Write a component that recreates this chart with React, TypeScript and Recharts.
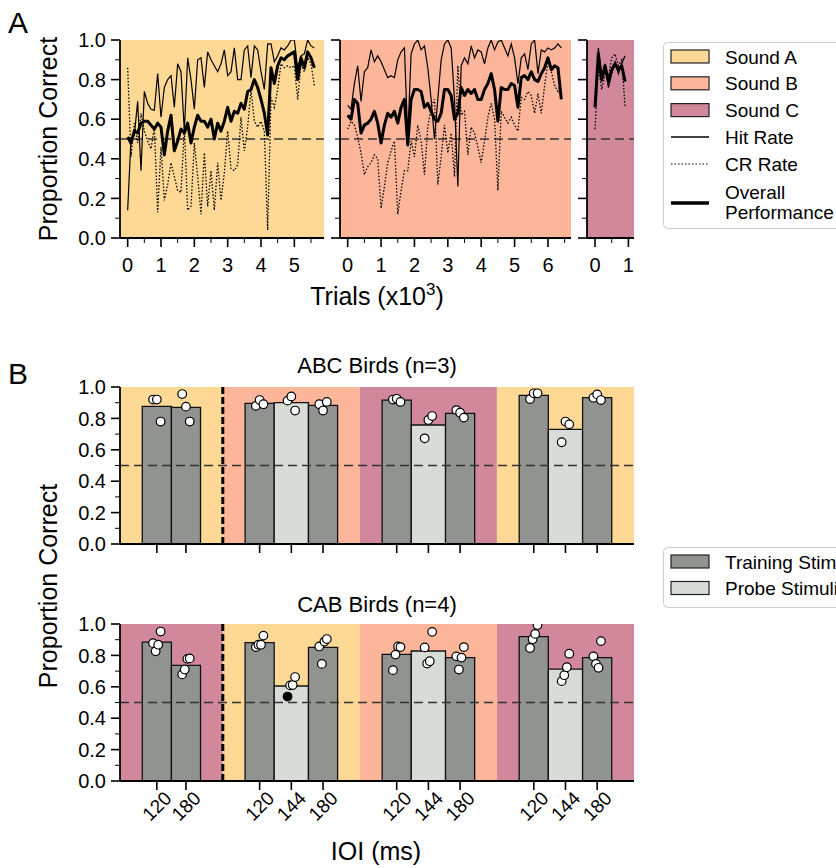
import React from 'react';
import { ComposedChart, Line, Scatter, XAxis, YAxis, ReferenceArea, ReferenceLine } from 'recharts';

const FONT = '"Liberation Sans", Arial, Helvetica, sans-serif';

const soundColors: Record<string, string> = { A: '#fdd995', B: '#fdb699', C: '#d1889b' };
const trainingColor = '#919391';
const probeColor = '#d7dcd7';

// ---- Panel A: proportion correct per 100-trial bin (x in thousands of trials) ----
const soundAHit = [
  0.14, 0.5, 0.52, 0.69, 0.34, 0.74, 0.68, 0.65, 0.645, 0.83,
  0.61, 0.76, 0.8, 0.82, 0.66, 0.88, 0.84, 0.54, 0.91, 0.8,
  0.65, 0.9, 0.91, 0.76, 0.94, 0.9, 0.87, 0.84, 0.88, 0.95,
  0.82, 0.84, 0.96, 0.8, 0.8, 0.95, 0.97, 0.81, 0.97, 0.95,
  0.84, 0.75, 0.98, 0.98, 0.89, 0.92, 0.96, 0.95, 0.97, 1.0,
  1.0, 0.86, 0.92, 0.93, 1.0, 0.97, 0.96,
];
const soundACr = [
  0.86, 0.41, 0.58, 0.48, 0.63, 0.54, 0.49, 0.45, 0.56, 0.13,
  0.46, 0.19, 0.27, 0.38, 0.31, 0.24, 0.23, 0.56, 0.14, 0.16,
  0.48, 0.31, 0.12, 0.43, 0.16, 0.34, 0.14, 0.38, 0.19, 0.33,
  0.54, 0.35, 0.34, 0.37, 0.61, 0.44, 0.56, 0.75, 0.59, 0.56,
  0.59, 0.54, 0.04, 0.71, 0.66, 0.75, 0.88, 0.86, 0.87, 0.86,
  0.87, 0.7, 0.88, 0.84, 0.91, 0.88, 0.77,
];
const soundAAll = [
  0.51, 0.48, 0.54, 0.53, 0.58, 0.59, 0.59, 0.57, 0.55, 0.58,
  0.56, 0.42, 0.54, 0.62, 0.44, 0.49, 0.55, 0.53, 0.58, 0.48,
  0.56, 0.62, 0.59, 0.59, 0.56, 0.6, 0.5, 0.58, 0.54, 0.59,
  0.66, 0.59, 0.64, 0.63, 0.68, 0.65, 0.74, 0.75, 0.8, 0.76,
  0.7, 0.63, 0.52, 0.86, 0.78, 0.87, 0.91, 0.9, 0.92, 0.93,
  0.94, 0.8, 0.91, 0.86, 0.94, 0.91, 0.86,
];

const soundBHit = [
  0.67, 0.65, 0.78, 0.87, 0.69, 0.84, 0.86, 0.95, 0.89, 0.92,
  0.89, 0.85, 0.81, 0.82, 0.81, 0.9, 0.94, 0.96, 0.51, 0.93,
  0.98, 1.0, 0.95, 0.97, 0.86, 0.7, 0.5, 0.7, 0.9, 0.98,
  1.0, 0.96, 0.7, 0.26, 0.87, 0.91, 0.88, 0.97, 0.91, 0.95,
  0.94, 0.88, 0.96, 1.0, 0.95, 0.99, 1.0, 0.96, 0.92, 0.98,
  0.91, 0.78, 0.91, 0.93, 0.85, 0.98, 1.0, 0.83, 0.95, 0.94,
  0.96, 0.95, 0.96, 0.98, 0.96,
];
const soundBCr = [
  0.55, 0.59, 0.57, 0.51, 0.43, 0.32, 0.36, 0.38, 0.42, 0.4,
  0.15, 0.26, 0.38, 0.44, 0.49, 0.12, 0.24, 0.34, 0.34, 0.49,
  0.41, 0.57, 0.49, 0.32, 0.56, 0.66, 0.7, 0.27, 0.41, 0.57,
  0.43, 0.53, 0.31, 0.87, 0.62, 0.64, 0.42, 0.56, 0.53, 0.46,
  0.38, 0.49, 0.61, 0.68, 0.6, 0.24, 0.64, 0.61, 0.58, 0.61,
  0.57, 0.54, 0.71, 0.7, 0.74, 0.72, 0.63, 0.73, 0.63, 0.77,
  0.89, 0.84, 0.77, 0.74, 0.78,
];
const soundBAll = [
  0.62, 0.6, 0.7, 0.68, 0.53, 0.57, 0.58, 0.6, 0.64, 0.58,
  0.48, 0.57, 0.63, 0.61, 0.64, 0.58, 0.66, 0.7, 0.47, 0.7,
  0.75, 0.75, 0.74, 0.66, 0.68, 0.64, 0.6, 0.59, 0.63, 0.75,
  0.75, 0.72, 0.6, 0.63, 0.76, 0.72, 0.75, 0.73, 0.75, 0.7,
  0.7, 0.75, 0.78, 0.83, 0.75, 0.59, 0.76, 0.75, 0.75, 0.78,
  0.77, 0.66, 0.81, 0.82, 0.8, 0.84, 0.8, 0.79, 0.83, 0.86,
  0.91, 0.85, 0.87, 0.86, 0.7,
];

const soundCHit = [0.67, 0.96, 0.79, 0.88, 0.76, 0.83, 0.89, 0.83, 0.88, 0.92];
const soundCCr = [0.55, 0.87, 0.75, 0.83, 0.81, 0.91, 0.93, 0.87, 0.9, 0.66];
const soundCAll = [0.66, 0.93, 0.8, 0.87, 0.79, 0.85, 0.88, 0.85, 0.87, 0.79];

const yTicks = [0, 0.1, 0.2, 0.3, 0.4, 0.5, 0.6, 0.7, 0.8, 0.9, 1.0];
const soundATicks = [0, 0.5, 1, 1.5, 2, 2.5, 3, 3.5, 4, 4.5, 5, 5.5];
const soundBTicks = [0, 0.5, 1, 1.5, 2, 2.5, 3, 3.5, 4, 4.5, 5, 5.5, 6, 6.5];
const soundCTicks = [0, 0.5, 1];

// ---- Panel B: generalisation across IOI ----
const ioiTwo = ['120', '180'];
const ioiThree = ['120', '144', '180'];
const abcSounds = ['A', 'B', 'C', 'A'];
const cabSounds = ['C', 'A', 'B', 'C'];

const abcMeans = [
  [0.877, 0.87],
  [0.896, 0.9, 0.883],
  [0.917, 0.758, 0.832],
  [0.947, 0.73, 0.932],
];
const abcBirds = [
  [[0.92, 0.92, 0.78], [0.955, 0.875, 0.78]],
  [[0.88, 0.917, 0.89], [0.913, 0.94, 0.85], [0.89, 0.85, 0.905]],
  [[0.92, 0.925, 0.905], [0.673, 0.79, 0.815], [0.853, 0.836, 0.805]],
  [[0.923, 0.96, 0.96], [0.648, 0.78, 0.762], [0.932, 0.953, 0.917]],
];
const cabMeans = [
  [0.885, 0.737],
  [0.882, 0.605, 0.851],
  [0.807, 0.828, 0.786],
  [0.92, 0.712, 0.786],
];
const cabBirds = [
  [[0.878, 0.826, 0.868, 0.952], [0.679, 0.71, 0.778, 0.781]],
  [[0.853, 0.868, 0.868, 0.926], [0.538, 0.609, 0.611, 0.662], [0.857, 0.746, 0.888, 0.904]],
  [[0.706, 0.805, 0.857, 0.853], [0.851, 0.748, 0.763, 0.95], [0.794, 0.71, 0.786, 0.853]],
  [[0.847, 0.903, 0.937, 0.994], [0.636, 0.674, 0.725, 0.811], [0.794, 0.746, 0.721, 0.891]],
];
const cabExcluded = ['1-1-0'];

const groupCenters = [1.5, 5, 9, 13];
const regionEdges = [0, 3, 7, 11, 15];
const jitter3 = [-0.11, 0, 0.11];
const jitter4 = [-0.11, -0.035, 0.04, 0.11];
const TRAIN_W = 0.85;
const PROBE_W = 1.0;

const AXIS_LINE = { stroke: '#000', strokeWidth: 1.8 };
const PAD = 12;
const TICK_FS = 20;

function place(x0: number, y0: number, x1: number, y1: number, yw: number, xh: number) {
  return {
    left: x0 - yw,
    top: y0 - PAD,
    width: x1 - x0 + yw + PAD,
    height: y1 - y0 + PAD + xh,
    margin: { top: PAD, right: PAD, bottom: 0, left: 0 },
  };
}

function ValueTick({ x, y, payload, showLabel }: any) {
  const v = payload.value;
  const major = Math.round(v * 10) % 2 === 0;
  return (
    <g>
      <line x1={x - (major ? 9 : 5)} x2={x} y1={y} y2={y} stroke="#000" strokeWidth={major ? 1.6 : 1} />
      {major && showLabel ? (
        <text x={x - 14} y={y} dy="0.36em" textAnchor="end" fontSize={TICK_FS} fontFamily={FONT} fill="#000">
          {v.toFixed(1)}
        </text>
      ) : null}
    </g>
  );
}

function TrialTick({ x, y, payload }: any) {
  const v = payload.value;
  const major = Math.abs(v - Math.round(v)) < 1e-6;
  return (
    <g>
      <line x1={x} x2={x} y1={y} y2={y + (major ? 9 : 5)} stroke="#000" strokeWidth={major ? 1.6 : 1} />
      {major ? (
        <text x={x} y={y + 34} textAnchor="middle" fontSize={TICK_FS} fontFamily={FONT} fill="#000">
          {v}
        </text>
      ) : null}
    </g>
  );
}

function IoiTick({ x, y, label }: any) {
  return (
    <g>
      <line x1={x} x2={x} y1={y} y2={y + 9} stroke="#000" strokeWidth={1.6} />
      {label ? (
        <text
          transform={`translate(${x},${y + 25}) rotate(-45)`}
          textAnchor="middle"
          dy="0.35em"
          fontSize={19}
          fontFamily={FONT}
          fill="#000"
        >
          {label}
        </text>
      ) : null}
    </g>
  );
}

function BirdDot({ cx, cy, payload }: any) {
  return <circle cx={cx} cy={cy} r={4.3} fill={payload.excluded ? '#000' : '#fff'} stroke="#000" strokeWidth={1.2} />;
}

function TrialPanel({ x0, x1, domain, ticks, sound, hit, cr, all, labels }: any) {
  const yw = labels ? 70 : 14;
  const p = place(x0, 40, x1, 238, yw, 50);
  const rows = hit.map((h: number, i: number) => ({ x: i / 10, hit: h, cr: cr[i], all: all[i] }));
  return (
    <div style={{ position: 'absolute', left: p.left, top: p.top }}>
      <ComposedChart width={p.width} height={p.height} margin={p.margin} data={rows}>
        <XAxis
          type="number"
          dataKey="x"
          domain={domain}
          allowDataOverflow
          ticks={ticks}
          interval={0}
          tickSize={0}
          tickMargin={0}
          tickLine={false}
          axisLine={AXIS_LINE}
          height={50}
          tick={(t: any) => <TrialTick {...t} />}
        />
        <YAxis
          type="number"
          domain={[0, 1]}
          allowDataOverflow
          ticks={yTicks}
          interval={0}
          tickSize={0}
          tickMargin={0}
          tickLine={false}
          axisLine={AXIS_LINE}
          width={yw}
          tick={(t: any) => <ValueTick {...t} showLabel={labels} />}
        />
        <ReferenceArea x1={domain[0]} x2={domain[1]} y1={0} y2={1} fill={soundColors[sound]} fillOpacity={1} stroke="none" />
        <ReferenceLine y={0.5} stroke="#333" strokeWidth={1.3} strokeDasharray="9 5" />
        <Line dataKey="cr" stroke="#000" strokeWidth={1.3} strokeDasharray="1.5 1.8" dot={false} isAnimationActive={false} />
        <Line dataKey="hit" stroke="#000" strokeWidth={1.2} dot={false} isAnimationActive={false} />
        <Line dataKey="all" stroke="#000" strokeWidth={3} strokeLinejoin="round" dot={false} isAnimationActive={false} />
      </ComposedChart>
    </div>
  );
}

function BirdPanel({ top, sounds, means, birds, excluded, showLabels }: any) {
  const bars: any[] = [];
  means.forEach((grp: number[], g: number) => {
    const labels = grp.length === 2 ? ioiTwo : ioiThree;
    const widths = labels.map((l) => (l === '144' ? PROBE_W : TRAIN_W));
    let left = groupCenters[g] - widths.reduce((a, b) => a + b, 0) / 2;
    grp.forEach((m, i) => {
      bars.push({ x1: left, x2: left + widths[i], mid: left + widths[i] / 2, mean: m, probe: labels[i] === '144', label: labels[i], g, i });
      left += widths[i];
    });
  });
  const pts: any[] = [];
  bars.forEach((b) => {
    const vals: number[] = birds[b.g][b.i];
    const jit = vals.length === 4 ? jitter4 : jitter3;
    vals.forEach((v, k) => pts.push({ x: b.mid + jit[k], y: v, excluded: excluded.includes(`${b.g}-${b.i}-${k}`) }));
  });
  const xh = showLabels ? 60 : 20;
  const p = place(120, top, 634, top + 157, 70, xh);
  return (
    <div style={{ position: 'absolute', left: p.left, top: p.top }}>
      <ComposedChart width={p.width} height={p.height} margin={p.margin} data={pts}>
        <XAxis
          type="number"
          dataKey="x"
          domain={[0, 15]}
          allowDataOverflow
          ticks={bars.map((b) => b.mid)}
          interval={0}
          tickSize={0}
          tickMargin={0}
          tickLine={false}
          axisLine={AXIS_LINE}
          height={xh}
          tick={(t: any) => <IoiTick {...t} label={showLabels ? bars[t.index]?.label : null} />}
        />
        <YAxis
          type="number"
          dataKey="y"
          domain={[0, 1]}
          allowDataOverflow
          ticks={yTicks}
          interval={0}
          tickSize={0}
          tickMargin={0}
          tickLine={false}
          axisLine={AXIS_LINE}
          width={70}
          tick={(t: any) => <ValueTick {...t} showLabel />}
        />
        {sounds.map((s: string, i: number) => (
          <ReferenceArea key={`bg-${i}`} x1={regionEdges[i]} x2={regionEdges[i + 1]} y1={0} y2={1} fill={soundColors[s]} fillOpacity={1} stroke="none" />
        ))}
        {bars.map((b, i) => (
          <ReferenceArea
            key={`bar-${i}`}
            x1={b.x1}
            x2={b.x2}
            y1={0}
            y2={b.mean}
            fill={b.probe ? probeColor : trainingColor}
            fillOpacity={1}
            stroke="#111"
            strokeWidth={1.3}
          />
        ))}
        <ReferenceLine y={0.5} stroke="#333" strokeWidth={1.3} strokeDasharray="9 5" />
        <ReferenceLine x={regionEdges[1]} stroke="#000" strokeWidth={3} strokeDasharray="7 3" />
        <Scatter data={pts} dataKey="y" isAnimationActive={false} shape={(s: any) => <BirdDot {...s} />} />
      </ComposedChart>
    </div>
  );
}

function Overlay() {
  const txt = { fontFamily: FONT, fill: '#000' };
  return (
    <svg width={836} height={868} style={{ position: 'absolute', left: 0, top: 0, pointerEvents: 'none' }}>
      <text x={8} y={33} fontSize={30} {...txt}>A</text>
      <text x={8} y={384} fontSize={30} {...txt}>B</text>
      <text transform="translate(57,139) rotate(-90)" textAnchor="middle" fontSize={25} {...txt}>Proportion Correct</text>
      <text transform="translate(57,586) rotate(-90)" textAnchor="middle" fontSize={25} {...txt}>Proportion Correct</text>
      <text x={377} y={305} textAnchor="middle" fontSize={25} {...txt}>
        Trials (x10<tspan dy={-10} fontSize={17}>3</tspan>
        <tspan dy={10}>)</tspan>
      </text>
      <text x={377} y={373} textAnchor="middle" fontSize={22} {...txt}>ABC Birds (n=3)</text>
      <text x={377} y={612} textAnchor="middle" fontSize={22} {...txt}>CAB Birds (n=4)</text>
      <text x={376} y={860} textAnchor="middle" fontSize={25} {...txt}>IOI (ms)</text>

      <rect x={663.5} y={42.5} width={200} height={186} rx={4} fill="#fff" fillOpacity={0.85} stroke="#ccc" />
      {['A', 'B', 'C'].map((s, i) => (
        <g key={s}>
          <rect x={671} y={50 + i * 26.8} width={38} height={13} fill={soundColors[s]} stroke="#222" strokeWidth={1.2} />
          <text x={725} y={63.5 + i * 26.8} fontSize={19} {...txt}>{`Sound ${s}`}</text>
        </g>
      ))}
      <line x1={671} x2={709} y1={137} y2={137} stroke="#000" strokeWidth={1.3} />
      <text x={725} y={144} fontSize={19} {...txt}>Hit Rate</text>
      <line x1={671} x2={709} y1={164} y2={164} stroke="#000" strokeWidth={1.2} strokeDasharray="1.5 2" />
      <text x={725} y={171} fontSize={19} {...txt}>CR Rate</text>
      <line x1={671} x2={709} y1={203} y2={203} stroke="#000" strokeWidth={3.5} />
      <text x={725} y={198.5} fontSize={19} {...txt}>Overall</text>
      <text x={725} y={218.5} fontSize={19} {...txt}>Performance</text>

      <rect x={663.5} y={547.5} width={200} height={60} rx={4} fill="#fff" fillOpacity={0.85} stroke="#ccc" />
      <rect x={671} y={555} width={38} height={13} fill={trainingColor} stroke="#222" strokeWidth={1.2} />
      <text x={725} y={568.5} fontSize={19} {...txt}>Training Stimuli</text>
      <rect x={671} y={581.5} width={38} height={13} fill={probeColor} stroke="#222" strokeWidth={1.2} />
      <text x={725} y={595} fontSize={19} {...txt}>Probe Stimuli</text>
    </svg>
  );
}

export default function App() {
  return (
    <div style={{ position: 'absolute', left: 0, top: 0, width: 836, height: 868, overflow: 'hidden', background: '#fff', fontFamily: FONT }}>
      <TrialPanel x0={120} x1={324} domain={[-0.23, 5.89]} ticks={soundATicks} sound="A" hit={soundAHit} cr={soundACr} all={soundAAll} labels />
      <TrialPanel x0={340} x1={571} domain={[-0.23, 6.69]} ticks={soundBTicks} sound="B" hit={soundBHit} cr={soundBCr} all={soundBAll} />
      <TrialPanel x0={587} x1={634} domain={[-0.24, 1.167]} ticks={soundCTicks} sound="C" hit={soundCHit} cr={soundCCr} all={soundCAll} />
      <BirdPanel top={387} sounds={abcSounds} means={abcMeans} birds={abcBirds} excluded={[]} />
      <BirdPanel top={624} sounds={cabSounds} means={cabMeans} birds={cabBirds} excluded={cabExcluded} showLabels />
      <Overlay />
    </div>
  );
}
